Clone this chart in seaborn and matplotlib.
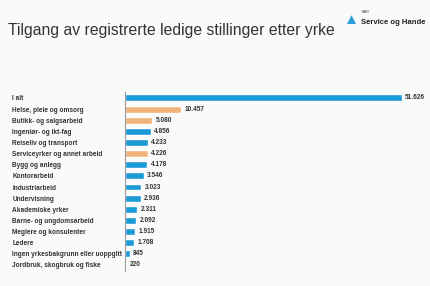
import matplotlib
matplotlib.use("Agg")
import matplotlib.pyplot as plt
import seaborn as sns
import pandas as pd

# Data
categories = [
    "I alt",
    "Helse, pleie og omsorg",
    "Butikk- og salgsarbeid",
    "Ingeniør- og ikt-fag",
    "Reiseliv og transport",
    "Serviceyrker og annet arbeid",
    "Bygg og anlegg",
    "Kontorarbeid",
    "Industriarbeid",
    "Undervisning",
    "Akademiske yrker",
    "Barne- og ungdomsarbeid",
    "Meglere og konsulenter",
    "Ledere",
    "Ingen yrkesbakgrunn eller uoppgitt",
    "Jordbruk, skogbruk og fiske",
]
values = [51626, 10457, 5080, 4856, 4233, 4226, 4178, 3546, 3023,
          2936, 2311, 2092, 1915, 1708, 845, 220]
highlight = [False, True, True, False, False, True, False, False, False,
             False, False, False, False, False, False, False]

blue = "#1b9ad6"
orange = "#f0b27a"
bg = "#fafafa"

df = pd.DataFrame({"yrke": categories, "antall": values,
                   "farge": [orange if h else blue for h in highlight]})

sns.set_theme(style="white")
plt.rcParams["font.family"] = ["Liberation Sans", "DejaVu Sans"]

fig = plt.figure(figsize=(4.31, 2.86), dpi=100, facecolor=bg)
ax = fig.add_axes([0.29, 0.054, 0.71, 0.623])
ax.set_facecolor(bg)

sns.barplot(data=df, x="antall", y="yrke", hue="yrke",
            palette=dict(zip(df["yrke"], df["farge"])), legend=False,
            width=0.62, saturation=1, ax=ax)

ax.set_xlim(0, 57030)
ax.set_xlabel("")
ax.set_ylabel("")
ax.set_xticks([])
for s in ["top", "right", "bottom"]:
    ax.spines[s].set_visible(False)
ax.spines["left"].set_color("#9a9a9a")
ax.spines["left"].set_linewidth(0.8)
ax.tick_params(axis="y", length=0, pad=81)
for lbl in ax.get_yticklabels():
    lbl.set_ha("left")
    lbl.set_fontsize(4.7)
    lbl.set_fontweight("bold")
    lbl.set_color("#333333")

# value labels
for p, v in zip(ax.patches, values):
    ax.text(p.get_width() + 600, p.get_y() + p.get_height() / 2,
            f"{v:,}".replace(",", "."), va="center", ha="left",
            fontsize=4.7, color="#333333", fontweight="bold")

fig.text(0.019, 0.895, "Tilgang av registrerte ledige stillinger etter yrke",
         fontsize=11.3, color="#333333", va="center", ha="left")

# logo imitation
fig.text(0.838, 0.923, "Service og Hande", fontsize=5.6, color="#222222",
         va="center", ha="left", fontweight="bold")
fig.text(0.840, 0.958, "NHO", fontsize=2.6, color="#222222",
         va="center", ha="left")
fig.text(0.815, 0.93, "\u25b2", fontsize=11, color="#2a9fd8",
         va="center", ha="center")

fig.savefig("out.png", dpi=100, facecolor=bg)
